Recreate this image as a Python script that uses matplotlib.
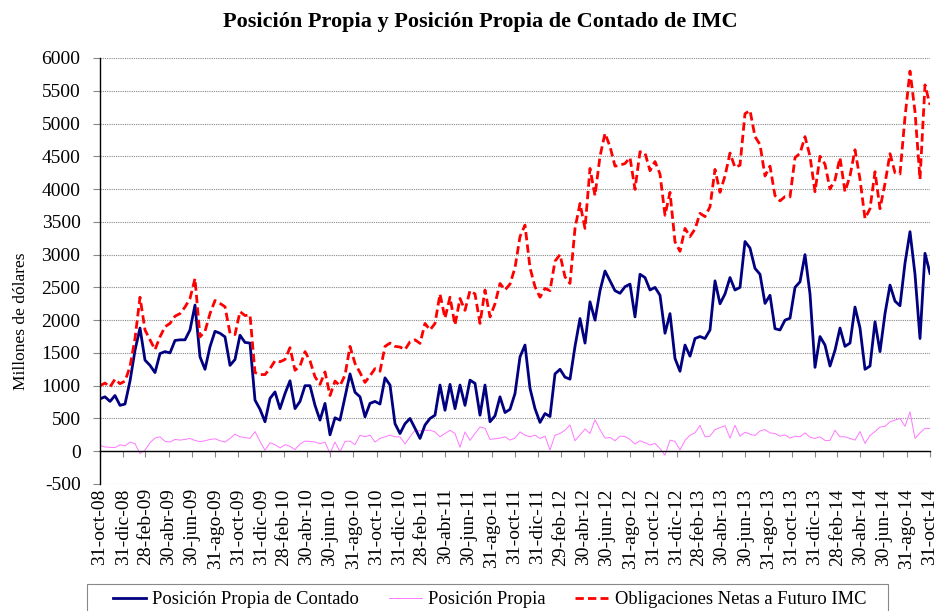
import matplotlib
matplotlib.use("Agg")
import matplotlib.pyplot as plt
import matplotlib.dates as mdates
from matplotlib.patches import Rectangle
import numpy as np
import pandas as pd

plt.rcParams['font.family'] = ['Liberation Serif', 'DejaVu Serif']
plt.rcParams['axes.unicode_minus'] = False

# valores (millones de dólares), fechas equiespaciadas
contado = [800, 830, 760, 850, 700, 720, 1070, 1540, 1880, 1390,
           1310, 1200, 1490, 1520, 1500, 1690, 1700, 1700, 1850, 2230,
           1440, 1250, 1595, 1830, 1800, 1745, 1310, 1400, 1770, 1660,
           1650, 780, 640, 450, 805, 905, 650, 880, 1075, 650,
           760, 1000, 1000, 700, 475, 730, 250, 510, 475, 830,
           1180, 900, 830, 525, 730, 760, 720, 1120, 1010, 420,
           270, 420, 500, 350, 195, 400, 500, 550, 1010, 625,
           1020, 650, 1010, 700, 1085, 1035, 550, 1010, 450, 540,
           830, 590, 640, 880, 1440, 1620, 960, 650, 440, 575,
           530, 1180, 1250, 1130, 1100, 1600, 2025, 1650, 2280, 2000,
           2450, 2750, 2600, 2450, 2410, 2510, 2550, 2050, 2700, 2650,
           2460, 2500, 2380, 1800, 2100, 1415, 1220, 1620, 1450, 1720,
           1750, 1720, 1850, 2600, 2250, 2400, 2650, 2460, 2500, 3200,
           3100, 2790, 2700, 2255, 2380, 1870, 1850, 2000, 2030, 2500,
           2585, 3000, 2400, 1280, 1750, 1620, 1300, 1540, 1880, 1600,
           1650, 2200, 1880, 1250, 1300, 1975, 1520, 2100, 2535, 2290,
           2220, 2870, 3350, 2700, 1720, 3020, 2715]

propia = [90, 65, 60, 55, 100, 80, 140, 115, -35, 15,
          130, 200, 220, 150, 140, 180, 170, 180, 195, 165,
          145, 160, 180, 190, 160, 140, 195, 260, 220, 210,
          195, 300, 150, 15, 130, 100, 50, 100, 75, 25,
          110, 155, 150, 140, 115, 140, -35, 140, -10, 150,
          155, 100, 245, 220, 245, 140, 195, 220, 245, 220,
          220, 110, 220, 320, 310, 320, 320, 295, 220, 270,
          320, 270, 60, 295, 165, 270, 370, 350, 180, 190,
          200, 220, 170, 200, 295, 245, 220, 245, 195, 230,
          20, 245, 270, 320, 400, 160, 250, 340, 270, 480,
          330, 200, 210, 160, 230, 225, 180, 110, 160, 130,
          95, 120, 40, -60, 170, 150, 20, 165, 245, 280,
          395, 220, 230, 330, 360, 390, 200, 395, 230, 290,
          260, 240, 310, 330, 280, 270, 230, 250, 200, 230,
          220, 280, 215, 195, 220, 165, 165, 320, 220, 220,
          195, 170, 300, 120, 240, 300, 370, 380, 450, 475,
          500, 380, 600, 195, 280, 350, 345]

obligaciones = [1000, 1040, 980, 1100, 1030, 1070, 1290, 1720, 2350, 1850,
                1700, 1550, 1745, 1900, 1950, 2060, 2100, 2200, 2330, 2635,
                1745, 1830, 2100, 2300, 2255, 2205, 1800, 1780, 2130, 2070,
                2080, 1200, 1170, 1170, 1260, 1380, 1365, 1400, 1580, 1235,
                1300, 1520, 1380, 1135, 1020, 1210, 850, 1070, 1000, 1160,
                1600, 1340, 1200, 1050, 1150, 1260, 1220, 1600, 1650, 1600,
                1590, 1550, 1670, 1700, 1645, 1950, 1850, 1950, 2400, 2030,
                2350, 1925, 2330, 2150, 2450, 2400, 1950, 2460, 2050, 2250,
                2560, 2460, 2550, 2800, 3275, 3450, 2800, 2510, 2350, 2485,
                2450, 2900, 3000, 2660, 2560, 3400, 3780, 3400, 4315, 3900,
                4500, 4850, 4650, 4350, 4365, 4390, 4480, 3995, 4570, 4550,
                4280, 4420, 4230, 3600, 3950, 3195, 3050, 3400, 3275, 3390,
                3630, 3580, 3730, 4300, 3950, 4200, 4550, 4330, 4365, 5150,
                5200, 4800, 4680, 4200, 4350, 3900, 3820, 3885, 3880, 4480,
                4545, 4800, 4500, 3960, 4500, 4380, 4000, 4140, 4480, 3960,
                4200, 4600, 4150, 3550, 3700, 4265, 3700, 4085, 4540, 4250,
                4230, 5100, 5800, 5180, 4150, 5590, 5285]

etiquetas = ["31-oct-08", "31-dic-08", "28-feb-09", "30-abr-09", "30-jun-09",
             "31-ago-09", "31-oct-09", "31-dic-09", "28-feb-10", "30-abr-10",
             "30-jun-10", "31-ago-10", "31-oct-10", "31-dic-10", "28-feb-11",
             "30-abr-11", "30-jun-11", "31-ago-11", "31-oct-11", "31-dic-11",
             "29-feb-12", "30-abr-12", "30-jun-12", "31-ago-12", "31-oct-12",
             "31-dic-12", "28-feb-13", "30-abr-13", "30-jun-13", "31-ago-13",
             "31-oct-13", "31-dic-13", "28-feb-14", "30-abr-14", "30-jun-14",
             "31-ago-14", "31-oct-14"]

fechas = pd.date_range("2008-10-31", "2014-10-31", periods=len(contado))
x = mdates.date2num(fechas.to_pydatetime())
fechas_tick = pd.date_range("2008-10-31", "2014-10-31", freq=pd.offsets.MonthEnd(2))
xt = mdates.date2num(fechas_tick.to_pydatetime())

fig = plt.figure(figsize=(9.4, 6.11), dpi=100)
ax = fig.add_axes([100/940, 1-484/611, 830/940, 426/611])

l2, = ax.plot(x, propia, color="#ff77ff", lw=0.7, label="Posición Propia")
l1, = ax.plot(x, contado, color="#000080", lw=2.0, label="Posición Propia de Contado")
l3, = ax.plot(x, obligaciones, color="#ff0000", lw=2.0, ls=(0, (3, 1.5)),
              label="Obligaciones Netas a Futuro IMC")

ax.set_xlim(x[0], x[-1])
ax.set_ylim(-500, 6000)
ax.set_yticks(np.arange(-500, 6001, 500))
ax.yaxis.grid(True, color="#888888", ls=(0, (1, 1)), lw=0.8)
ax.set_axisbelow(True)
for s in ["top", "right"]:
    ax.spines[s].set_visible(False)
ax.spines["left"].set_linewidth(1.0)
ax.spines["bottom"].set_position(("data", 0))
ax.spines["bottom"].set_linewidth(1.0)
ax.set_xticks(xt)
ax.tick_params(axis="x", direction="out", length=4, color="#888888", labelbottom=False)
ax.tick_params(axis="y", direction="out", length=5, color="#888888", pad=9, labelsize=14)

sec = ax.secondary_xaxis(0)
sec.set_xticks(xt, etiquetas)
sec.tick_params(length=0, rotation=90, labelsize=14, pad=3)
sec.spines["bottom"].set_visible(False)

ax.set_ylabel("Millones de dólares", fontsize=12.5)
ax.yaxis.set_label_coords(-0.0855, 0.383)

fig.text(480/940, 1-22/611, "Posición Propia y Posición Propia de Contado de IMC",
         ha="center", va="center", fontsize=16, fontweight="bold")

fig.legend(handles=[l1, l2, l3], loc="center left", bbox_to_anchor=(113/940, 1-600/611),
           ncol=3, fontsize=13.3, frameon=False, borderaxespad=0, borderpad=0,
           handlelength=1.8, handletextpad=0.33, columnspacing=1.6)
fig.patches.append(Rectangle((87/940, -0.05), 801/940, 0.05 + 27/611,
                             transform=fig.transFigure, fill=False,
                             edgecolor="#888888", lw=0.8))

fig.savefig("out.png", dpi=100)
